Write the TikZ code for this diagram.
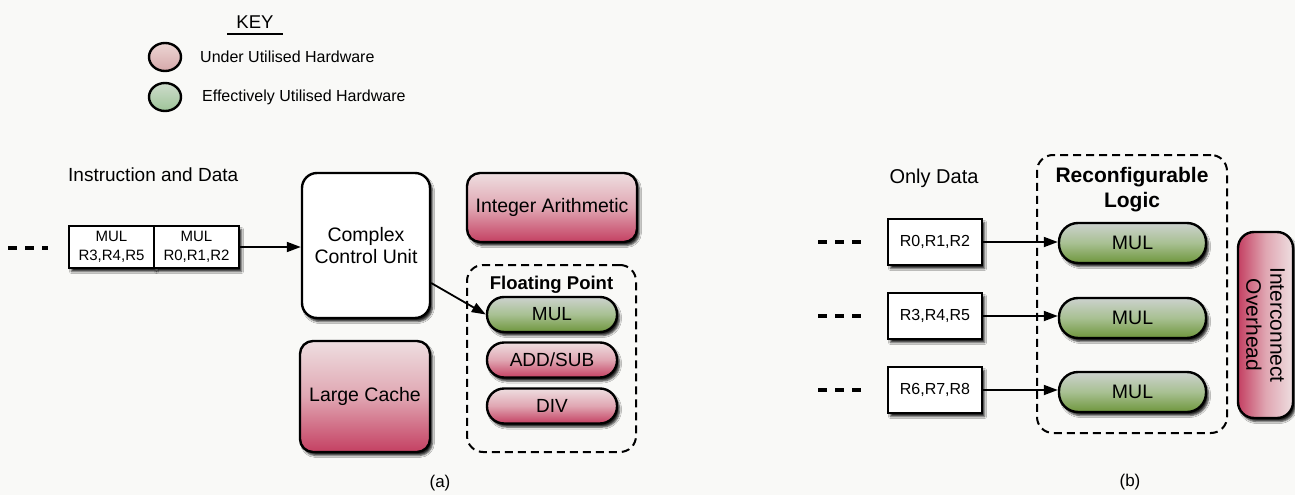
\documentclass[tikz,border=0pt]{standalone}
\usepackage{fontspec}
\setmainfont{Liberation Sans}
\usetikzlibrary{arrows.meta,shadows.blur,calc,shapes.geometric}

\definecolor{redtop}{RGB}{238,222,224}
\definecolor{redmid}{RGB}{224,166,178}
\definecolor{redbot}{RGB}{196,64,98}
\definecolor{greentop}{RGB}{204,210,206}
\definecolor{greenmid}{RGB}{168,192,146}
\definecolor{greenbot}{RGB}{110,150,60}
\definecolor{keyredtop}{RGB}{236,214,212}
\definecolor{keyredbot}{RGB}{214,168,170}
\definecolor{keygreentop}{RGB}{206,220,204}
\definecolor{keygreenbot}{RGB}{158,196,152}
\definecolor{paper}{RGB}{249,249,247}

\begin{document}
\begin{tikzpicture}[x=1pt,y=-1pt,
  shade/.style={blur shadow={shadow xshift=2.5pt,shadow yshift=-3.5pt,shadow blur radius=2pt,shadow opacity=85}},
  hw/.style={draw,line width=2.4pt,rounded corners=13pt,shade,inner sep=0pt,align=center,
             font=\fontsize{19.5}{22}\selectfont},
  under/.style={top color=redtop,bottom color=redbot,middle color=redmid},
  effective/.style={top color=greentop,bottom color=greenbot,middle color=greenmid},
  pill/.style={hw,minimum width=130pt,minimum height=35pt,rounded corners=17pt,
               font=\fontsize{19}{22}\selectfont},
  bigpill/.style={pill,minimum width=147pt,minimum height=40pt,rounded corners=19pt,
               font=\fontsize{19.5}{22}\selectfont},
  regbox/.style={draw,line width=2.4pt,fill=white,shade,inner sep=0pt,align=center,
                 minimum width=94pt,minimum height=46pt,font=\fontsize{16}{19}\selectfont},
  instbox/.style={regbox,minimum width=85pt,minimum height=42pt,font=\fontsize{15}{19}\selectfont},
  group/.style={draw,line width=2pt,dash pattern=on 8pt off 5pt,rounded corners=16pt,
                inner sep=0pt},
  link/.style={line width=1.8pt,-{Triangle[length=14pt,width=10pt]}},
  trail/.style={line width=4pt,dash pattern=on 9pt off 8pt},
  keydot/.style={ellipse,draw,line width=2.4pt,minimum width=32pt,minimum height=28pt,inner sep=0pt},
  label/.style={inner sep=0pt,font=\fontsize{#1}{#1}\selectfont},
]
\useasboundingbox[fill=paper] (0,0) rectangle (1295,495);

% ---------- key ----------
\node[label=18.5] (key) at (255,22) {KEY};
\draw[line width=2pt] ($(key.center)+(-28,12)$) -- ++(56,0);
\node[keydot,top color=keyredtop,bottom color=keyredbot] (keyunder) at (165,57) {};
\node[keydot,top color=keygreentop,bottom color=keygreenbot] (keyeffective) at (165,97) {};
\node[label=16,anchor=west] (keyundertext) at (200,57) {Under Utilised Hardware};
\node[label=16,anchor=west] (keyefftext) at (202,97) {Effectively Utilised Hardware};

% ---------- (a) general purpose processor ----------
\node[label=19,anchor=west] (instdata) at (68,175) {Instruction and Data};
\node[instbox] (inst2) at (111.5,247) {MUL\\R3,R4,R5};
\node[instbox] (inst1) at (196.5,247) {MUL\\R0,R1,R2};
\coordinate (trailA) at (8,248);
\draw[trail] (trailA) -- ++(40,0);

\node[hw,fill=white,minimum width=128pt,minimum height=145pt,rounded corners=15pt] (ccu)
  at (366,245.5) {Complex\\Control Unit};
\node[hw,under,minimum width=170pt,minimum height=69pt] (intarith) at (552,207.5) {Integer Arithmetic};
\node[hw,under,minimum width=130pt,minimum height=111pt] (cache) at (365,396.5) {Large Cache};

\node[group,minimum width=169pt,minimum height=187pt] (fpgroup) at (551.5,358.5) {};
\node[label=18.5,font=\fontsize{18.5}{20}\selectfont\bfseries] (fptitle) at (551.5,285) {Floating Point};
\node[pill,effective] (fpmul) at (552,314.5) {MUL};
\node[pill,under] (fpadd) at (552,360) {ADD/SUB};
\node[pill,under] (fpdiv) at (552,406) {DIV};

\draw[link] (inst1.east) -- (ccu.west |- inst1.east);
\draw[link] ([yshift=-37.5pt]ccu.east) -- (fpmul.west);

\node[label=17] (capa) at (440,483) {(a)};

% ---------- (b) reconfigurable logic ----------
\node[label=20] (onlydata) at (934,178) {Only Data};
\node[group,minimum width=190pt,minimum height=278pt] (rlgroup) at (1132,294) {};
\node[align=center,inner sep=0pt,font=\fontsize{21}{25}\selectfont\bfseries] (rltitle)
  at (1132,189.5) {Reconfigurable\\Logic};

\foreach \i/\regs/\ry/\my in {1/{R0,R1,R2}/242/243, 2/{R3,R4,R5}/316/318, 3/{R6,R7,R8}/390/392}{
  \node[regbox] (reg\i) at (935,\ry) {\regs};
  \node[bigpill,effective] (mul\i) at (1132.5,\my) {MUL};
  \coordinate (trail\i) at (818,\ry);
  \draw[trail] (trail\i) -- ++(44,0);
  \draw[link] (reg\i.east) -- (mul\i.west |- reg\i.east);
}

\node[hw,left color=redbot,right color=redtop,middle color=redmid,
      minimum width=55pt,minimum height=186pt,rounded corners=16pt] (ic) at (1265.5,325) {};
\node[rotate=-90,align=center,inner sep=0pt,font=\fontsize{21}{24}\selectfont] (ictext)
  at (ic.center) {Interconnect\\Overhead};

\node[label=17] (capb) at (1130,482) {(b)};
\end{tikzpicture}
\end{document}
